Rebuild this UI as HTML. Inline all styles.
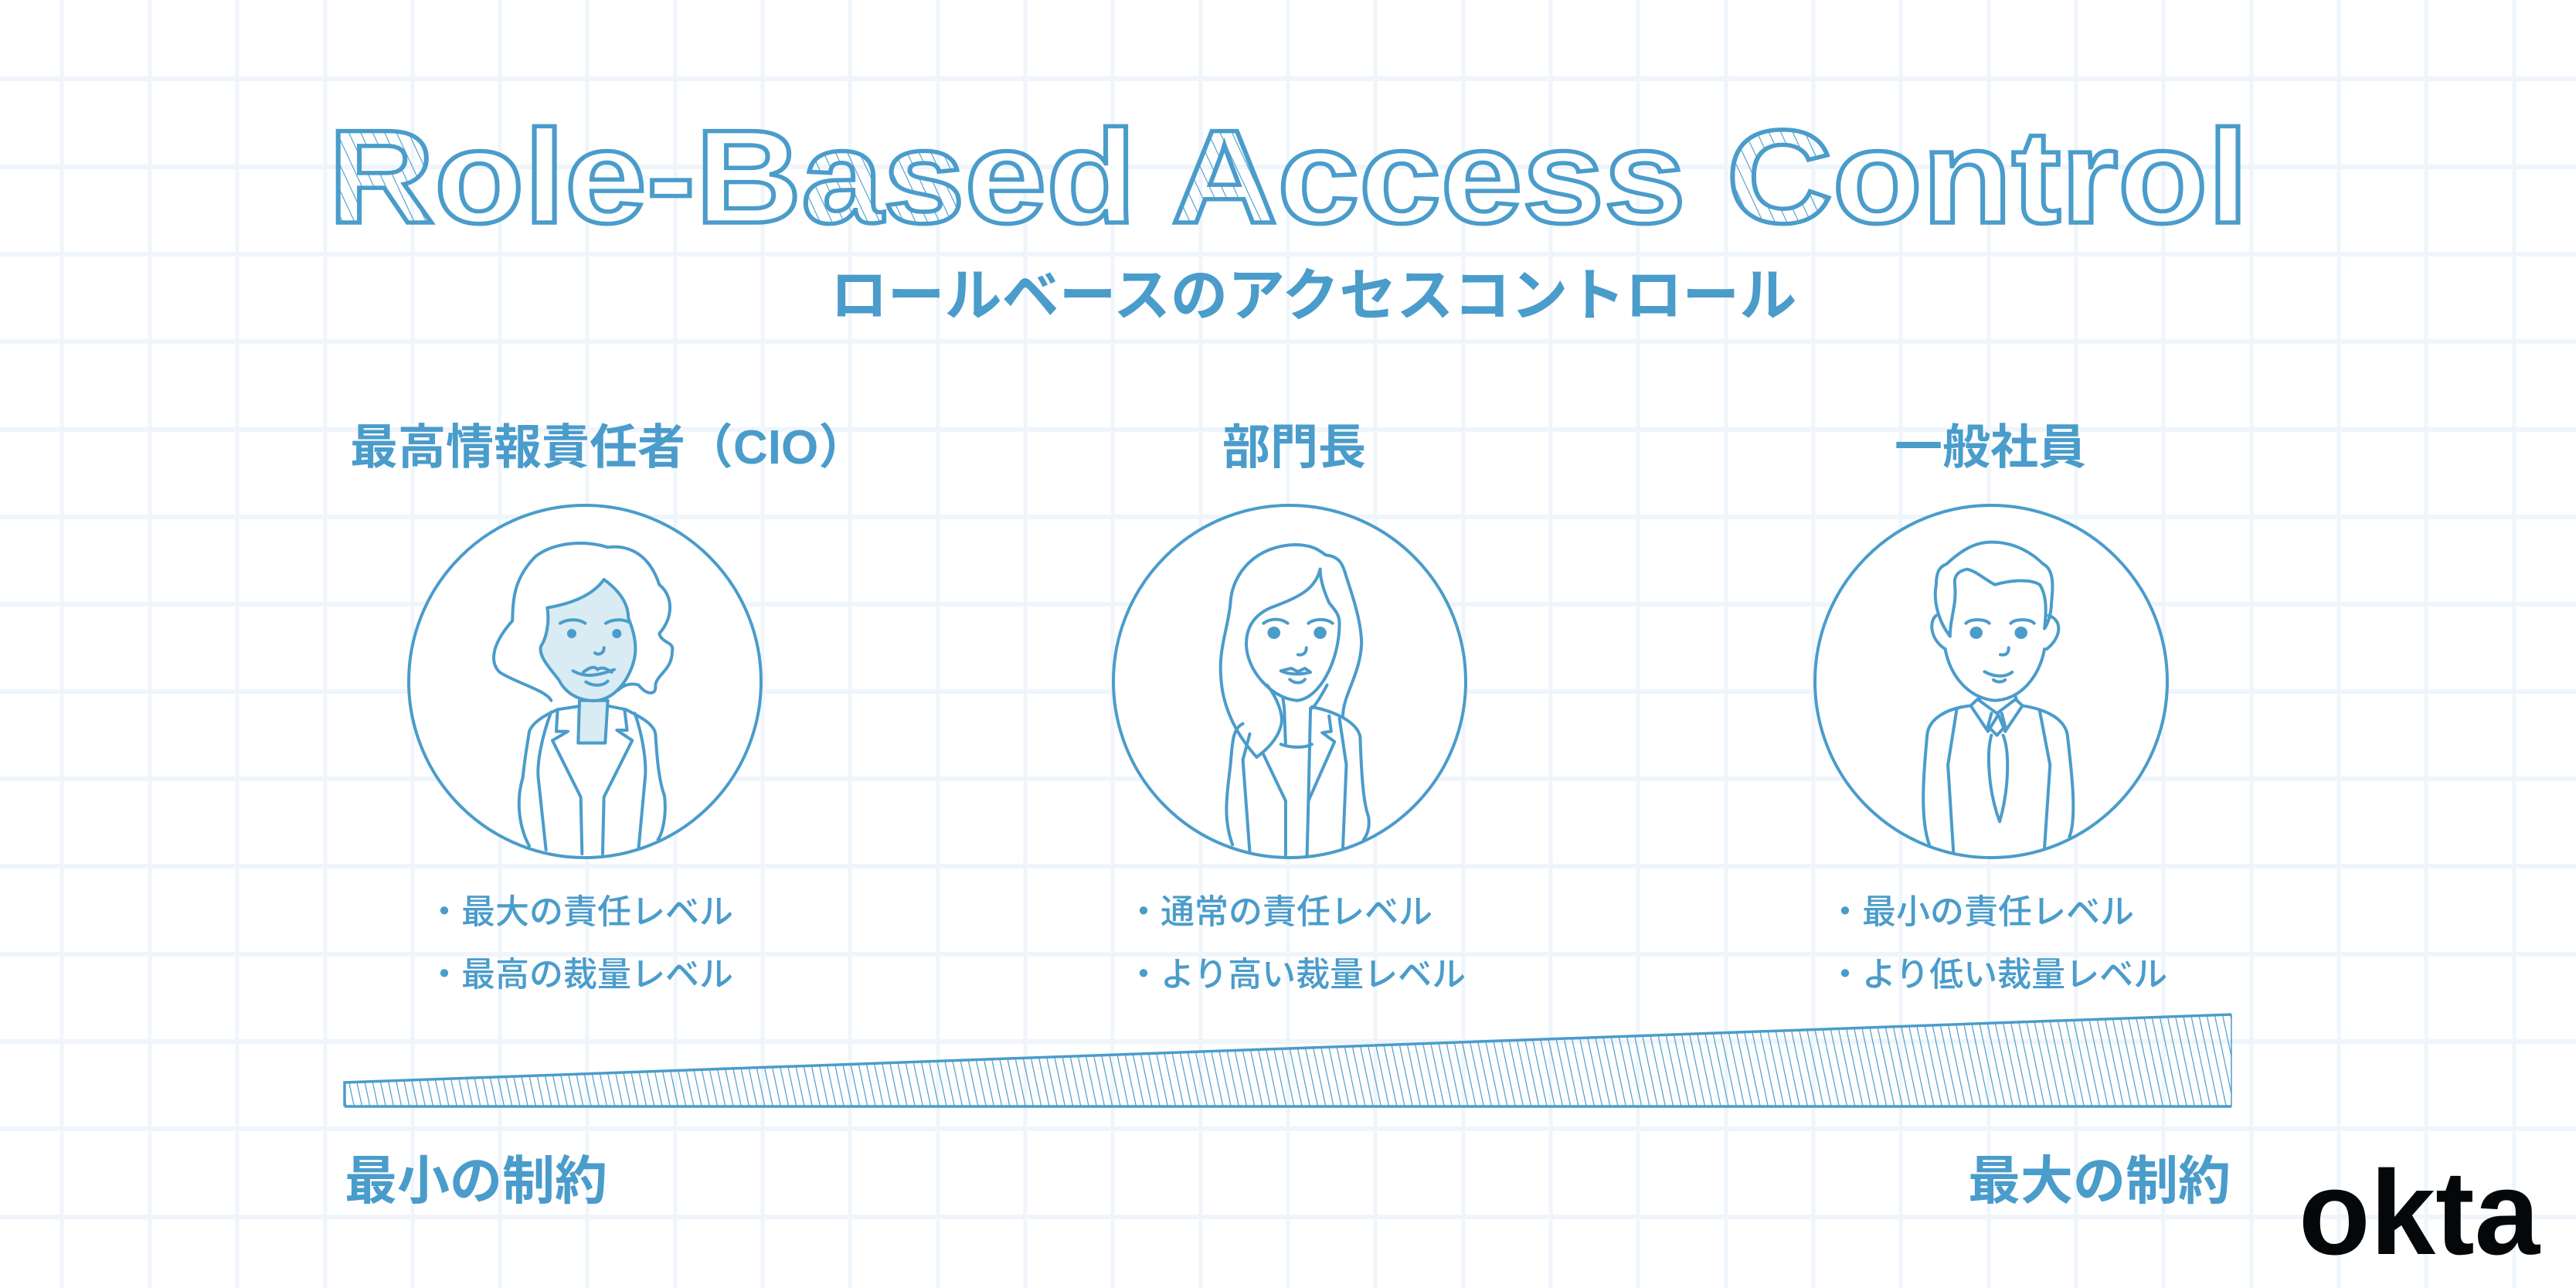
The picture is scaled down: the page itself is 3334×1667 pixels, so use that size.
<!DOCTYPE html>
<html><head><meta charset="utf-8"><style>
html,body{margin:0;padding:0;background:#fff}
svg{display:block}
.jp{font-family:"Liberation Sans","Noto Sans CJK JP",sans-serif;fill:#4a9ccb}
.ns path,.ns ellipse{vector-effect:non-scaling-stroke}
</style></head><body>
<svg width="3334" height="1667" viewBox="0 0 3334 1667" xmlns="http://www.w3.org/2000/svg">
<defs>
<pattern id="h1" width="14" height="14" patternUnits="userSpaceOnUse" patternTransform="rotate(-25)">
<line x1="0" y1="0" x2="0" y2="14" stroke="#4a9ccb" stroke-width="2.2"/></pattern>
<pattern id="h2" width="10" height="10" patternUnits="userSpaceOnUse" patternTransform="rotate(-12)">
<line x1="0" y1="0" x2="0" y2="10" stroke="#4a9ccb" stroke-width="2.4"/></pattern>
</defs>
<g stroke="#eff5fa" stroke-width="5">
<line x1="80" y1="0" x2="80" y2="1667"/><line x1="194" y1="0" x2="194" y2="1667"/><line x1="307" y1="0" x2="307" y2="1667"/><line x1="421" y1="0" x2="421" y2="1667"/><line x1="534" y1="0" x2="534" y2="1667"/><line x1="647" y1="0" x2="647" y2="1667"/><line x1="760" y1="0" x2="760" y2="1667"/><line x1="874" y1="0" x2="874" y2="1667"/><line x1="987" y1="0" x2="987" y2="1667"/><line x1="1100" y1="0" x2="1100" y2="1667"/><line x1="1214" y1="0" x2="1214" y2="1667"/><line x1="1327" y1="0" x2="1327" y2="1667"/><line x1="1440" y1="0" x2="1440" y2="1667"/><line x1="1554" y1="0" x2="1554" y2="1667"/><line x1="1667" y1="0" x2="1667" y2="1667"/><line x1="1780" y1="0" x2="1780" y2="1667"/><line x1="1894" y1="0" x2="1894" y2="1667"/><line x1="2007" y1="0" x2="2007" y2="1667"/><line x1="2120" y1="0" x2="2120" y2="1667"/><line x1="2234" y1="0" x2="2234" y2="1667"/><line x1="2347" y1="0" x2="2347" y2="1667"/><line x1="2460" y1="0" x2="2460" y2="1667"/><line x1="2574" y1="0" x2="2574" y2="1667"/><line x1="2687" y1="0" x2="2687" y2="1667"/><line x1="2800" y1="0" x2="2800" y2="1667"/><line x1="2914" y1="0" x2="2914" y2="1667"/><line x1="3027" y1="0" x2="3027" y2="1667"/><line x1="3140" y1="0" x2="3140" y2="1667"/><line x1="3254" y1="0" x2="3254" y2="1667"/>
</g>
<g stroke="#eff5fa" stroke-width="6">
<line x1="0" y1="102" x2="3334" y2="102"/><line x1="0" y1="216" x2="3334" y2="216"/><line x1="0" y1="329" x2="3334" y2="329"/><line x1="0" y1="442" x2="3334" y2="442"/><line x1="0" y1="556" x2="3334" y2="556"/><line x1="0" y1="669" x2="3334" y2="669"/><line x1="0" y1="782" x2="3334" y2="782"/><line x1="0" y1="895" x2="3334" y2="895"/><line x1="0" y1="1008" x2="3334" y2="1008"/><line x1="0" y1="1121" x2="3334" y2="1121"/><line x1="0" y1="1235" x2="3334" y2="1235"/><line x1="0" y1="1348" x2="3334" y2="1348"/><line x1="0" y1="1461" x2="3334" y2="1461"/><line x1="0" y1="1575" x2="3334" y2="1575"/>
</g>

<text x="425" y="288" font-family="Liberation Sans,sans-serif" font-weight="bold" font-size="172" textLength="2485" lengthAdjust="spacingAndGlyphs" fill="#fff" stroke="#4a9ccb" stroke-width="5.5"><tspan fill="url(#h1)">R</tspan>ole-B<tspan fill="url(#h1)">as</tspan>ed <tspan fill="url(#h1)">A</tspan>ccess <tspan fill="url(#h1)">C</tspan>ontrol</text>

<text class="jp" x="1700" y="408" font-size="74" font-weight="bold" text-anchor="middle">ロールベースのアクセスコントロール</text>

<text class="jp" x="453" y="600" font-size="62" font-weight="bold">最高情報責任者（CIO）</text>
<text class="jp" x="1675" y="600" font-size="62" font-weight="bold" text-anchor="middle">部門長</text>
<text class="jp" x="2576" y="600" font-size="62" font-weight="bold" text-anchor="middle">一般社員</text>

<g fill="#fff" stroke="#4a9ccb" stroke-width="4">
<circle cx="757" cy="882" r="228"/><circle cx="1669" cy="882" r="228"/><circle cx="2577" cy="882" r="228"/>
</g>

<!-- Figure 1 -->
<g transform="translate(520,640) scale(0.3333)" stroke="#4a9ccb" stroke-width="12" fill="none" stroke-linecap="round" stroke-linejoin="round">
<path d="M580,800 C560,760 440,730 380,690 C340,650 350,580 430,490 C430,400 440,320 520,240 C600,180 720,180 800,205 C880,195 960,230 1000,350 C1050,390 1060,470 1000,540 C1010,580 1060,570 1050,610 C1050,680 990,700 985,740 C990,790 940,770 920,740 C890,730 860,740 840,760"/>
<path d="M690,800 L800,800 L790,965 L685,965 Z" fill="#d9ebf3"/>
<path d="M565,440 C680,420 750,380 785,330 C840,370 880,420 880,480 C905,540 915,600 900,650 C880,720 830,790 760,800 C700,805 640,780 610,720 C580,680 530,630 540,590 C560,560 575,500 565,440 Z" fill="#d9ebf3"/>
<path d="M495,1365 C460,1300 440,1200 470,1100 C480,1000 490,960 495,920 C510,880 570,850 605,835 L690,822"/>
<path d="M805,822 L870,835 C920,860 980,890 985,930 C990,1000 995,1100 1020,1170 C1030,1250 1010,1320 995,1340"/>
<path d="M605,835 L600,920 L645,920 L585,955 L695,1175 L700,1395"/>
<path d="M865,835 L875,915 L835,915 L895,955 L785,1175 L780,1395"/>
<path d="M580,845 C540,950 525,1050 530,1100 L560,1380"/>
<path d="M905,850 C940,950 950,1050 945,1100 L920,1370"/>
<path d="M615,500 C650,480 690,485 712,500 M792,500 C820,482 860,485 880,495"/>
<circle cx="660" cy="540" r="12" fill="#4a9ccb"/><circle cx="835" cy="540" r="12" fill="#4a9ccb"/>
<path d="M785,595 C785,620 760,625 750,615"/>
<path d="M665,685 C700,705 740,712 825,680 M715,728 C745,745 780,745 800,725 M705,690 C730,670 750,665 760,680 C775,668 795,675 815,690"/>
</g>

<!-- Figures 2 & 3 (zoom coordinate space) -->
<g class="ns" transform="translate(1430,640) scale(0.8929,0.3333)" stroke="#4a9ccb" stroke-width="4" fill="none" stroke-linecap="round" stroke-linejoin="round">
<!-- fig 2 -->
<path d="M220,1020 C200,960 170,850 168,700 C165,600 180,500 182,420 C185,300 220,200 275,195 C300,195 310,215 320,235 C340,240 345,270 350,320 C360,400 372,500 372,580 C370,700 345,780 345,860"/>
<path d="M312,290 C305,370 280,400 240,440 C215,470 205,520 205,580"/>
<path d="M205,580 C205,680 240,790 278,800 C310,795 340,650 340,500 C340,460 330,440 325,420 C318,380 312,330 312,290"/>
<path d="M235,740 C250,790 260,860 255,900 C250,950 235,990 220,1020"/>
<path d="M322,740 C312,790 305,820 300,830"/>
<path d="M258,790 L260,830 L262,975 M255,970 C270,985 290,985 300,970 M298,830 L295,1190"/>
<path d="M200,890 C185,910 185,960 182,1050 C178,1150 170,1250 185,1360"/>
<path d="M300,825 C330,840 365,880 370,940 C372,1100 375,1200 382,1250 C385,1300 378,1330 375,1340"/>
<path d="M230,1010 L262,1190 L262,1400 M325,860 L328,920 L315,925 L333,960 L295,1190 L293,1400"/>
<path d="M210,930 L200,1030 L210,1390 M340,870 L350,1050 L345,1370"/>
<path d="M230,500 C240,480 255,480 265,500 M295,500 C305,480 322,482 330,500"/>
<ellipse cx="245" cy="537" rx="7" ry="18" fill="#4a9ccb"/><ellipse cx="312" cy="537" rx="7" ry="18" fill="#4a9ccb"/>
<path d="M292,595 C292,620 285,625 280,622"/>
<path d="M255,685 C265,698 282,702 298,690 L290,675 L280,688 L270,675 Z M268,718 C275,735 285,735 290,718"/>
<!-- fig 3 -->
<path d="M1225,550 C1210,500 1200,420 1205,350 C1205,300 1210,280 1220,270 C1240,220 1260,185 1285,185 C1320,185 1345,230 1360,270 C1375,290 1375,350 1372,420 C1372,470 1365,510 1362,520"/>
<path d="M1225,550 C1225,480 1235,430 1232,350 C1230,310 1240,295 1250,290 C1265,300 1275,330 1290,350 C1310,335 1340,325 1355,350 C1365,390 1365,450 1362,520"/>
<path d="M1205,470 C1195,490 1195,560 1218,600 M1368,470 C1390,490 1385,560 1365,600"/>
<path d="M1218,600 C1225,700 1250,790 1290,800 C1330,795 1355,700 1362,600"/>
<path d="M1248,500 C1255,482 1275,482 1282,500 M1313,500 C1320,482 1340,482 1347,500"/>
<ellipse cx="1263" cy="537" rx="7" ry="18" fill="#4a9ccb"/><ellipse cx="1328" cy="537" rx="7" ry="18" fill="#4a9ccb"/>
<path d="M1310,595 C1310,620 1305,625 1298,622 M1275,688 C1290,710 1305,710 1315,690 M1288,720 C1293,730 1300,730 1305,720"/>
<path d="M1268,785 L1268,800 M1320,785 L1322,800"/>
<path d="M1255,820 L1265,795 L1293,850 L1320,795 L1330,820 L1305,920 L1295,855 L1280,920 Z"/>
<path d="M1285,850 L1280,900 L1293,935 L1305,900 L1300,850"/>
<path d="M1285,935 C1278,1000 1280,1150 1297,1270 C1310,1150 1312,1000 1302,935"/>
<path d="M1255,820 C1220,830 1195,870 1192,930 C1188,1050 1180,1250 1195,1360 M1330,820 C1365,835 1390,870 1395,930 C1400,1050 1410,1250 1398,1330"/>
<path d="M1235,830 L1222,1050 L1230,1390 M1355,840 L1370,1050 L1362,1370"/>
</g>

<g class="jp" font-size="44" font-weight="500">
<text x="553" y="1195">・最大の責任レベル</text>
<text x="553" y="1276">・最高の裁量レベル</text>
<text x="1458" y="1195">・通常の責任レベル</text>
<text x="1458" y="1276">・より高い裁量レベル</text>
<text x="2366" y="1195">・最小の責任レベル</text>
<text x="2366" y="1276">・より低い裁量レベル</text>
</g>

<polygon points="446,1401 2888,1313 2888,1432 446,1432" fill="url(#h2)" stroke="none"/>
<polyline points="446,1432 446,1401 2888,1313" fill="none" stroke="#4a9ccb" stroke-width="3.5"/>
<line x1="446" y1="1432" x2="2888" y2="1432" stroke="#4a9ccb" stroke-width="3.5"/>
<line x1="2888" y1="1313" x2="2888" y2="1432" stroke="#4a9ccb" stroke-width="1.5"/>

<text class="jp" x="446" y="1552" font-size="68" font-weight="bold">最小の制約</text>
<text class="jp" x="2887" y="1552" font-size="68" font-weight="bold" text-anchor="end">最大の制約</text>

<text x="2975" y="1623" font-family="Liberation Sans,sans-serif" font-size="155" font-weight="bold" fill="#05080a" textLength="312" lengthAdjust="spacingAndGlyphs">okta</text>
</svg>
</body></html>
